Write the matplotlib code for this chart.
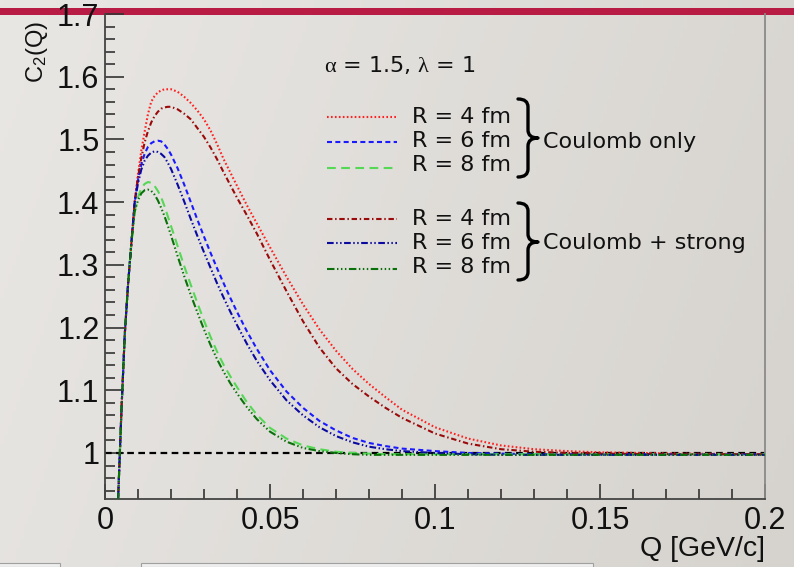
import numpy as np
import matplotlib
matplotlib.use("Agg")
import matplotlib.pyplot as plt
from matplotlib.path import Path
from matplotlib.patches import PathPatch, Rectangle
from matplotlib.lines import Line2D

plt.rcParams['font.family'] = ['Liberation Sans', 'DejaVu Sans']
plt.rcParams['mathtext.fontset'] = 'custom'
plt.rcParams['mathtext.rm'] = 'Liberation Serif'
plt.rcParams['mathtext.default'] = 'regular'

# ---------------- data ----------------
Q = [0.0035, 0.004, 0.0045, 0.005, 0.0055, 0.006, 0.007, 0.008, 0.009, 0.010,
     0.011, 0.012, 0.013, 0.014, 0.015, 0.016, 0.017, 0.018, 0.019, 0.020,
     0.022, 0.024, 0.026, 0.028, 0.030, 0.032, 0.034, 0.036, 0.038, 0.040,
     0.043, 0.046, 0.050, 0.055, 0.060, 0.065, 0.070, 0.075, 0.080, 0.085,
     0.090, 0.100, 0.110, 0.120, 0.130, 0.140, 0.150, 0.175, 0.200]

rise = [0.82, 0.93, 1.00, 1.07, 1.13, 1.19, 1.27, 1.335]

coul_R4 = rise + [1.40, 1.445, 1.482, 1.512, 1.540, 1.560, 1.569, 1.575, 1.578, 1.580, 1.580, 1.580,
                  1.576, 1.568, 1.558, 1.546, 1.532, 1.514, 1.492, 1.468, 1.447, 1.426,
                  1.395, 1.366, 1.328, 1.281, 1.237, 1.197, 1.163, 1.134, 1.110, 1.089,
                  1.069, 1.041, 1.023, 1.012, 1.006, 1.003, 1.001, 0.999, 0.998]
coul_R6 = rise + [1.40, 1.435, 1.460, 1.477, 1.488, 1.494, 1.497, 1.498, 1.497, 1.492, 1.485, 1.476,
                  1.454, 1.428, 1.400, 1.372, 1.345, 1.319, 1.294, 1.270, 1.247, 1.225,
                  1.194, 1.166, 1.132, 1.098, 1.072, 1.051, 1.036, 1.024, 1.016, 1.011,
                  1.007, 1.003, 1.000, 0.999, 0.998, 0.998, 0.998, 0.998, 0.998]
coul_R8 = rise + [1.385, 1.408, 1.422, 1.429, 1.432, 1.431, 1.426, 1.418, 1.408, 1.394, 1.378, 1.362,
                  1.330, 1.298, 1.268, 1.239, 1.211, 1.185, 1.161, 1.140, 1.122, 1.105,
                  1.081, 1.061, 1.040, 1.023, 1.012, 1.006, 1.002, 1.000, 0.999, 0.998,
                  0.998, 0.998, 0.998, 0.998, 0.998, 0.998, 0.998, 0.998, 0.998]
strong_R4 = rise + [1.40, 1.440, 1.470, 1.495, 1.513, 1.527, 1.537, 1.544, 1.549, 1.551, 1.552, 1.552,
                    1.548, 1.541, 1.532, 1.518, 1.504, 1.487, 1.468, 1.447, 1.427, 1.407,
                    1.379, 1.350, 1.308, 1.258, 1.210, 1.168, 1.135, 1.110, 1.090, 1.072,
                    1.056, 1.031, 1.015, 1.006, 1.002, 1.000, 0.999, 0.998, 0.998]
strong_R6 = rise + [1.40, 1.430, 1.452, 1.466, 1.474, 1.479, 1.481, 1.480, 1.477, 1.472, 1.463, 1.453,
                    1.428, 1.401, 1.373, 1.346, 1.320, 1.295, 1.270, 1.247, 1.225, 1.204,
                    1.174, 1.147, 1.116, 1.084, 1.060, 1.041, 1.027, 1.017, 1.010, 1.006,
                    1.003, 1.000, 0.998, 0.997, 0.997, 0.997, 0.997, 0.997, 0.997]
strong_R8 = rise + [1.385, 1.403, 1.414, 1.419, 1.420, 1.418, 1.412, 1.403, 1.391, 1.378, 1.363, 1.347,
                    1.314, 1.282, 1.252, 1.224, 1.197, 1.172, 1.149, 1.129, 1.111, 1.095,
                    1.073, 1.054, 1.034, 1.018, 1.008, 1.003, 1.000, 0.998, 0.997, 0.997,
                    0.997, 0.997, 0.997, 0.997, 0.997, 0.997, 0.997, 0.997, 0.997]

legend_labels = ["R = 4 fm", "R = 6 fm", "R = 8 fm"]
group_labels = ["Coulomb only", "Coulomb + strong"]
param_text = r"$\mathrm{\alpha}$ = 1.5, $\mathrm{\lambda}$ = 1"
x_ticks = [0, 0.05, 0.1, 0.15, 0.2]
x_ticklabels = ["0", "0.05", "0.1", "0.15", "0.2"]
y_ticks = [1.0, 1.1, 1.2, 1.3, 1.4, 1.5, 1.6, 1.7]
y_ticklabels = ["1", "1.1", "1.2", "1.3", "1.4", "1.5", "1.6", "1.7"]
x_label = "Q [GeV/c]"
y_label = "C$_{2}$(Q)"

# ---------------- styles ----------------
LW = 1.5
styles = [
    dict(color='#ff2020', dashes=(0.8, 1.1)),                      # Coulomb R=4
    dict(color='#1a1aff', dashes=(2.4, 1.6)),                      # Coulomb R=6
    dict(color='#55d855', dashes=(4.2, 2.6)),                      # Coulomb R=8
    dict(color='#9a0a0a', dashes=(2.6, 1.3, 0.7, 1.3)),            # strong R=4
    dict(color='#0a0aa0', dashes=(3.2, 1.2, 0.7, 1.2, 0.7, 1.2)),  # strong R=6
    dict(color='#0a700a', dashes=(3.6, 1.2, 0.7, 1.2, 0.7, 1.2, 0.7, 1.2)),  # strong R=8
]
series = [coul_R4, coul_R6, coul_R8, strong_R4, strong_R6, strong_R8]

W, H = 794, 567
fig = plt.figure(figsize=(W / 100, H / 100), dpi=100)

def fx(x):
    return x / W

def fy(y):
    return 1 - y / H

# background gradient
bg = fig.add_axes([0, 0, 1, 1], zorder=-5)
gx = np.linspace(0, 1, 200)
gy = np.linspace(0, 1, 120)
GX, GY = np.meshgrid(gx, gy)
t = 0.8 * GX + 0.2 * GY
c0 = np.array([233, 231, 228]) / 255
c1 = np.array([214, 211, 206]) / 255
img = c0[None, None, :] * (1 - t[..., None]) + c1[None, None, :] * t[..., None]
bg.imshow(img, aspect='auto', extent=[0, 1, 0, 1], origin='upper')
bg.set_xlim(0, 1); bg.set_ylim(0, 1)
bg.axis('off')
# red bar of the slide
bg.add_patch(Rectangle((0, fy(14.5)), 1, fy(8) - fy(14.5), color='#b81c45', lw=0))
# bottom UI remnants
bg.add_patch(Rectangle((fx(-2), 0), fx(62), fy(563), facecolor='#eeeeee', edgecolor='#a0a0a0', lw=0.8))
bg.add_patch(Rectangle((fx(141), 0), fx(452), fy(563), facecolor='#eeeeee', edgecolor='#a0a0a0', lw=0.8))

# main axes
ax = fig.add_axes([fx(105), fy(499), fx(765) - fx(105), fy(14) - fy(499)], zorder=1)
ax.set_facecolor('none')
ax.set_xlim(0, 0.2)
ax.set_ylim(0.9266, 1.7)

ax.plot([0, 0.2], [1, 1], color='black', lw=1.6, dashes=(3.0, 2.0), zorder=2)
for ys, st in zip(series, styles):
    ax.plot(Q, ys, lw=LW, color=st['color'], dashes=st['dashes'], zorder=3)

ax.set_xticks(x_ticks)
ax.set_xticklabels(x_ticklabels)
ax.set_yticks(y_ticks)
ax.set_yticklabels(y_ticklabels)
ax.set_xticks(np.arange(0, 0.2001, 0.01), minor=True)
ax.set_yticks(np.arange(0.94, 1.7001, 0.02), minor=True)
ax.tick_params(axis='both', which='major', direction='in', length=14, width=1.2,
               color='#333333', labelsize=22, labelcolor='#111111')
ax.tick_params(axis='both', which='minor', direction='in', length=7.5, width=1.2, color='#333333')
ax.tick_params(axis='x', which='major', length=11, pad=5)
ax.tick_params(axis='y', which='major', pad=4)
for s in ['left', 'bottom']:
    ax.spines[s].set_color('#444444')
    ax.spines[s].set_linewidth(1.3)
ax.spines['right'].set_color('#8a8a8a')
ax.spines['right'].set_linewidth(1.3)
ax.spines['top'].set_visible(False)

# axis titles
fig.text(fx(37), fy(83), y_label, rotation=90, ha='center', va='bottom', fontsize=17, color='#111111')
fig.text(fx(765), fy(549), x_label, ha='right', va='center', fontsize=20.5, color='#111111')

LEG_FONT = ['DejaVu Sans']
# parameter text
fig.text(fx(324), fy(71.7), param_text, ha='left', va='baseline', fontsize=16,
         family=LEG_FONT, color='#111111')

# manual legend
line_y = [116.5, 142.0, 167.5, 219.0, 243.0, 269.0]
text_base = [123.3, 147.0, 171.0, 225.0, 249.0, 273.0]
for i, st in enumerate(styles):
    y = line_y[i]
    fig.add_artist(Line2D([fx(327), fx(397)], [fy(y), fy(y)], lw=LW, color=st['color'],
                          dashes=st['dashes'], transform=fig.transFigure))
    fig.text(fx(412), fy(text_base[i]), legend_labels[i % 3], ha='left', va='baseline',
             fontsize=16, family=LEG_FONT, color='#111111')

def brace(x0, xm, x1, ytop, ymid, ybot, r=8):
    verts = [(x0, ytop), (xm, ytop), (xm, ytop + r),
             (xm, ymid - r),
             (xm, ymid), (x1, ymid),
             (xm, ymid), (xm, ymid + r),
             (xm, ybot - r),
             (xm, ybot), (x0, ybot)]
    codes = [Path.MOVETO, Path.CURVE3, Path.CURVE3, Path.LINETO,
             Path.CURVE3, Path.CURVE3, Path.CURVE3, Path.CURVE3,
             Path.LINETO, Path.CURVE3, Path.CURVE3]
    verts = [(fx(a), fy(b)) for a, b in verts]
    fig.add_artist(PathPatch(Path(verts, codes), fill=False, lw=2.4, color='black',
                             transform=fig.transFigure, capstyle='round', joinstyle='round'))

brace(518, 528, 538, 99, 138, 177)
brace(518, 528, 538, 203, 242, 280)
fig.text(fx(543), fy(148), group_labels[0], ha='left', va='baseline', fontsize=16,
         family=LEG_FONT, color='#111111')
fig.text(fx(543), fy(249), group_labels[1], ha='left', va='baseline', fontsize=16,
         family=LEG_FONT, color='#111111')

fig.savefig('out.png', dpi=100)
